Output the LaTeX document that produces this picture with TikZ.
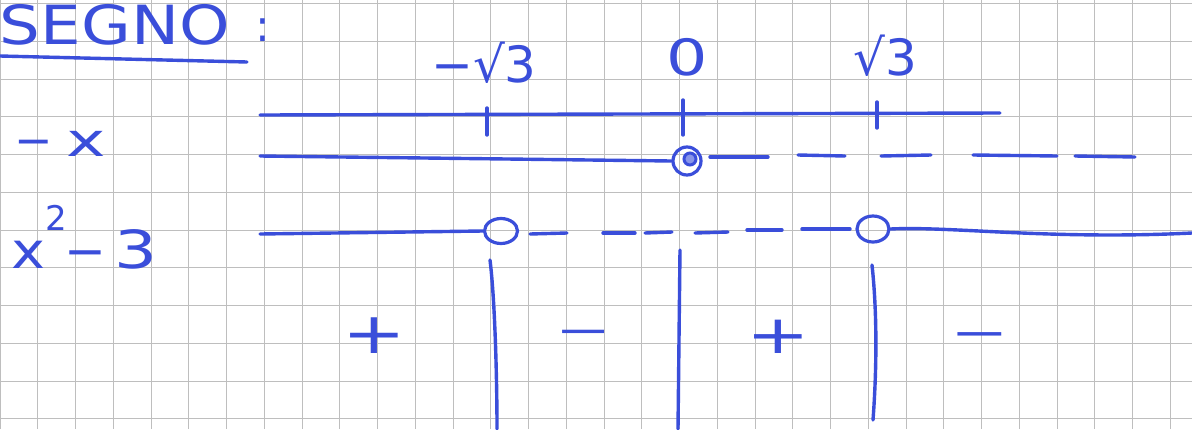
\documentclass[tikz,border=0pt]{standalone}
\usepackage{fontspec}
\setmainfont{DejaVu Sans}
\usetikzlibrary{shapes.geometric}
\definecolor{ink}{RGB}{58,78,218}
\definecolor{gridc}{RGB}{190,190,190}
\newcommand{\fs}[1]{\fontsize{#1}{#1}\selectfont}
\begin{document}
\begin{tikzpicture}[x=1pt,y=-1pt,
  gridline/.style={draw=gridc,line width=0.8pt},
  pen/.style={draw=ink,line width=3.4pt,line cap=round,line join=round},
  txt/.style={text=ink,inner sep=0pt,outer sep=0pt},
  ring/.style={ellipse,draw=ink,line width=3.2pt,inner sep=0pt},
  sgn/.style={txt,anchor=base}]
\fill[white] (0,0) rectangle (1192,429);
\useasboundingbox (0,0) rectangle (1192,429);
% grid
\foreach \i in {0,...,31} \draw[gridline] (\i*37.75,0) -- (\i*37.75,429);
\foreach \j in {0,...,11} \draw[gridline] (0,3.5+\j*37.75) -- (1192,3.5+\j*37.75);
% title
\node[txt,anchor=base west] (title) at (0,44) {\fs{54}\scalebox{1.19}[1]{SEGNO}};
\node[txt,anchor=base] (colon) at (263,41) {\fs{44}:};
\coordinate (ulA) at (0,56);
\coordinate (ulB) at (247,62);
\draw[pen] (ulA) -- (ulB);
% row labels
\node[txt,anchor=base west] (lx) at (14,156) {\fs{46}−\hspace{14pt}\scalebox{1.45}[1]{x}};
\node[txt,anchor=base west] (lq) at (11,268) {\fs{50}\scalebox{1.15}[1]{x}\raisebox{38pt}{\fs{34}2}\kern-2pt−\kern8pt\scalebox{1.35}[1.05]{3}};
% root labels
\node[txt,anchor=base] (r1) at (484,82) {\fs{50}−√3};
\node[txt,anchor=base] (r0) at (687,75) {\fs{50}\scalebox{1.3}[1]{0}};
\node[txt,anchor=base] (r2) at (885,75) {\fs{50}√3};
% axis
\coordinate (axA) at (260,115);
\coordinate (axB) at (1000,113);
\draw[pen] (axA) -- (axB);
\coordinate (t1a) at (487,108); \coordinate (t1b) at (487,135);
\coordinate (t0a) at (683,100); \coordinate (t0b) at (683,135);
\coordinate (t2a) at (877,102); \coordinate (t2b) at (877,128);
\draw[pen] (t1a) -- (t1b);
\draw[pen] (t0a) -- (t0b);
\draw[pen] (t2a) -- (t2b);
% -x row
\coordinate (xA) at (260,156);
\node[ring,circle,minimum size=28pt] (d0) at (687,161) {};
\node[circle,draw=ink,line width=3pt,fill=ink!60,minimum size=12pt,inner sep=0pt] (d0i) at (690,159) {};
\draw[pen] (xA) -- (d0.west);
\foreach \a/\b/\ya/\yb in {710/768/157/157, 798/845/155/156, 881/931/156/155, 973/1057/155/156, 1075/1135/156/157}
  \draw[pen] (\a,\ya) -- (\b,\yb);
% x^2-3 row
\coordinate (qA) at (260,234);
\coordinate (qB) at (1192,233);
\node[ring,minimum width=33pt,minimum height=25pt] (z1) at (501,231) {};
\node[ring,minimum width=32pt,minimum height=26pt] (z2) at (873,229) {};
\draw[pen] (qA) -- (z1.west);
\draw[pen] (z2.east) .. controls (950,226) and (1050,240) .. (qB);
\foreach \a/\b/\ya/\yb in {530/567/234/233, 603/635/233/233, 645/672/233/232, 695/728/233/232, 747/782/230/230, 802/850/229/229}
  \draw[pen] (\a,\ya) -- (\b,\yb);
% vertical separators
\coordinate (v1a) at (490,260); \coordinate (v1b) at (497,429);
\coordinate (v2a) at (680,250); \coordinate (v2b) at (678,429);
\coordinate (v3a) at (872,265); \coordinate (v3b) at (873,420);
\draw[pen] (v1a) .. controls (495,300) and (497,380) .. (v1b);
\draw[pen] (v2a) -- (v2b);
\draw[pen] (v3a) .. controls (878,320) and (876,380) .. (v3b);
% signs
\node[sgn] (s1) at (374,353) {\fs{76}\scalebox{1}[0.75]{+}};
\node[sgn] (s2) at (584,344) {\fs{67}\scalebox{1}[0.6]{−}};
\node[sgn] (s3) at (778,353) {\fs{76}\scalebox{1}[0.7]{+}};
\node[sgn] (s4) at (980,347) {\fs{70}\scalebox{1}[0.6]{−}};
\end{tikzpicture}
\end{document}
